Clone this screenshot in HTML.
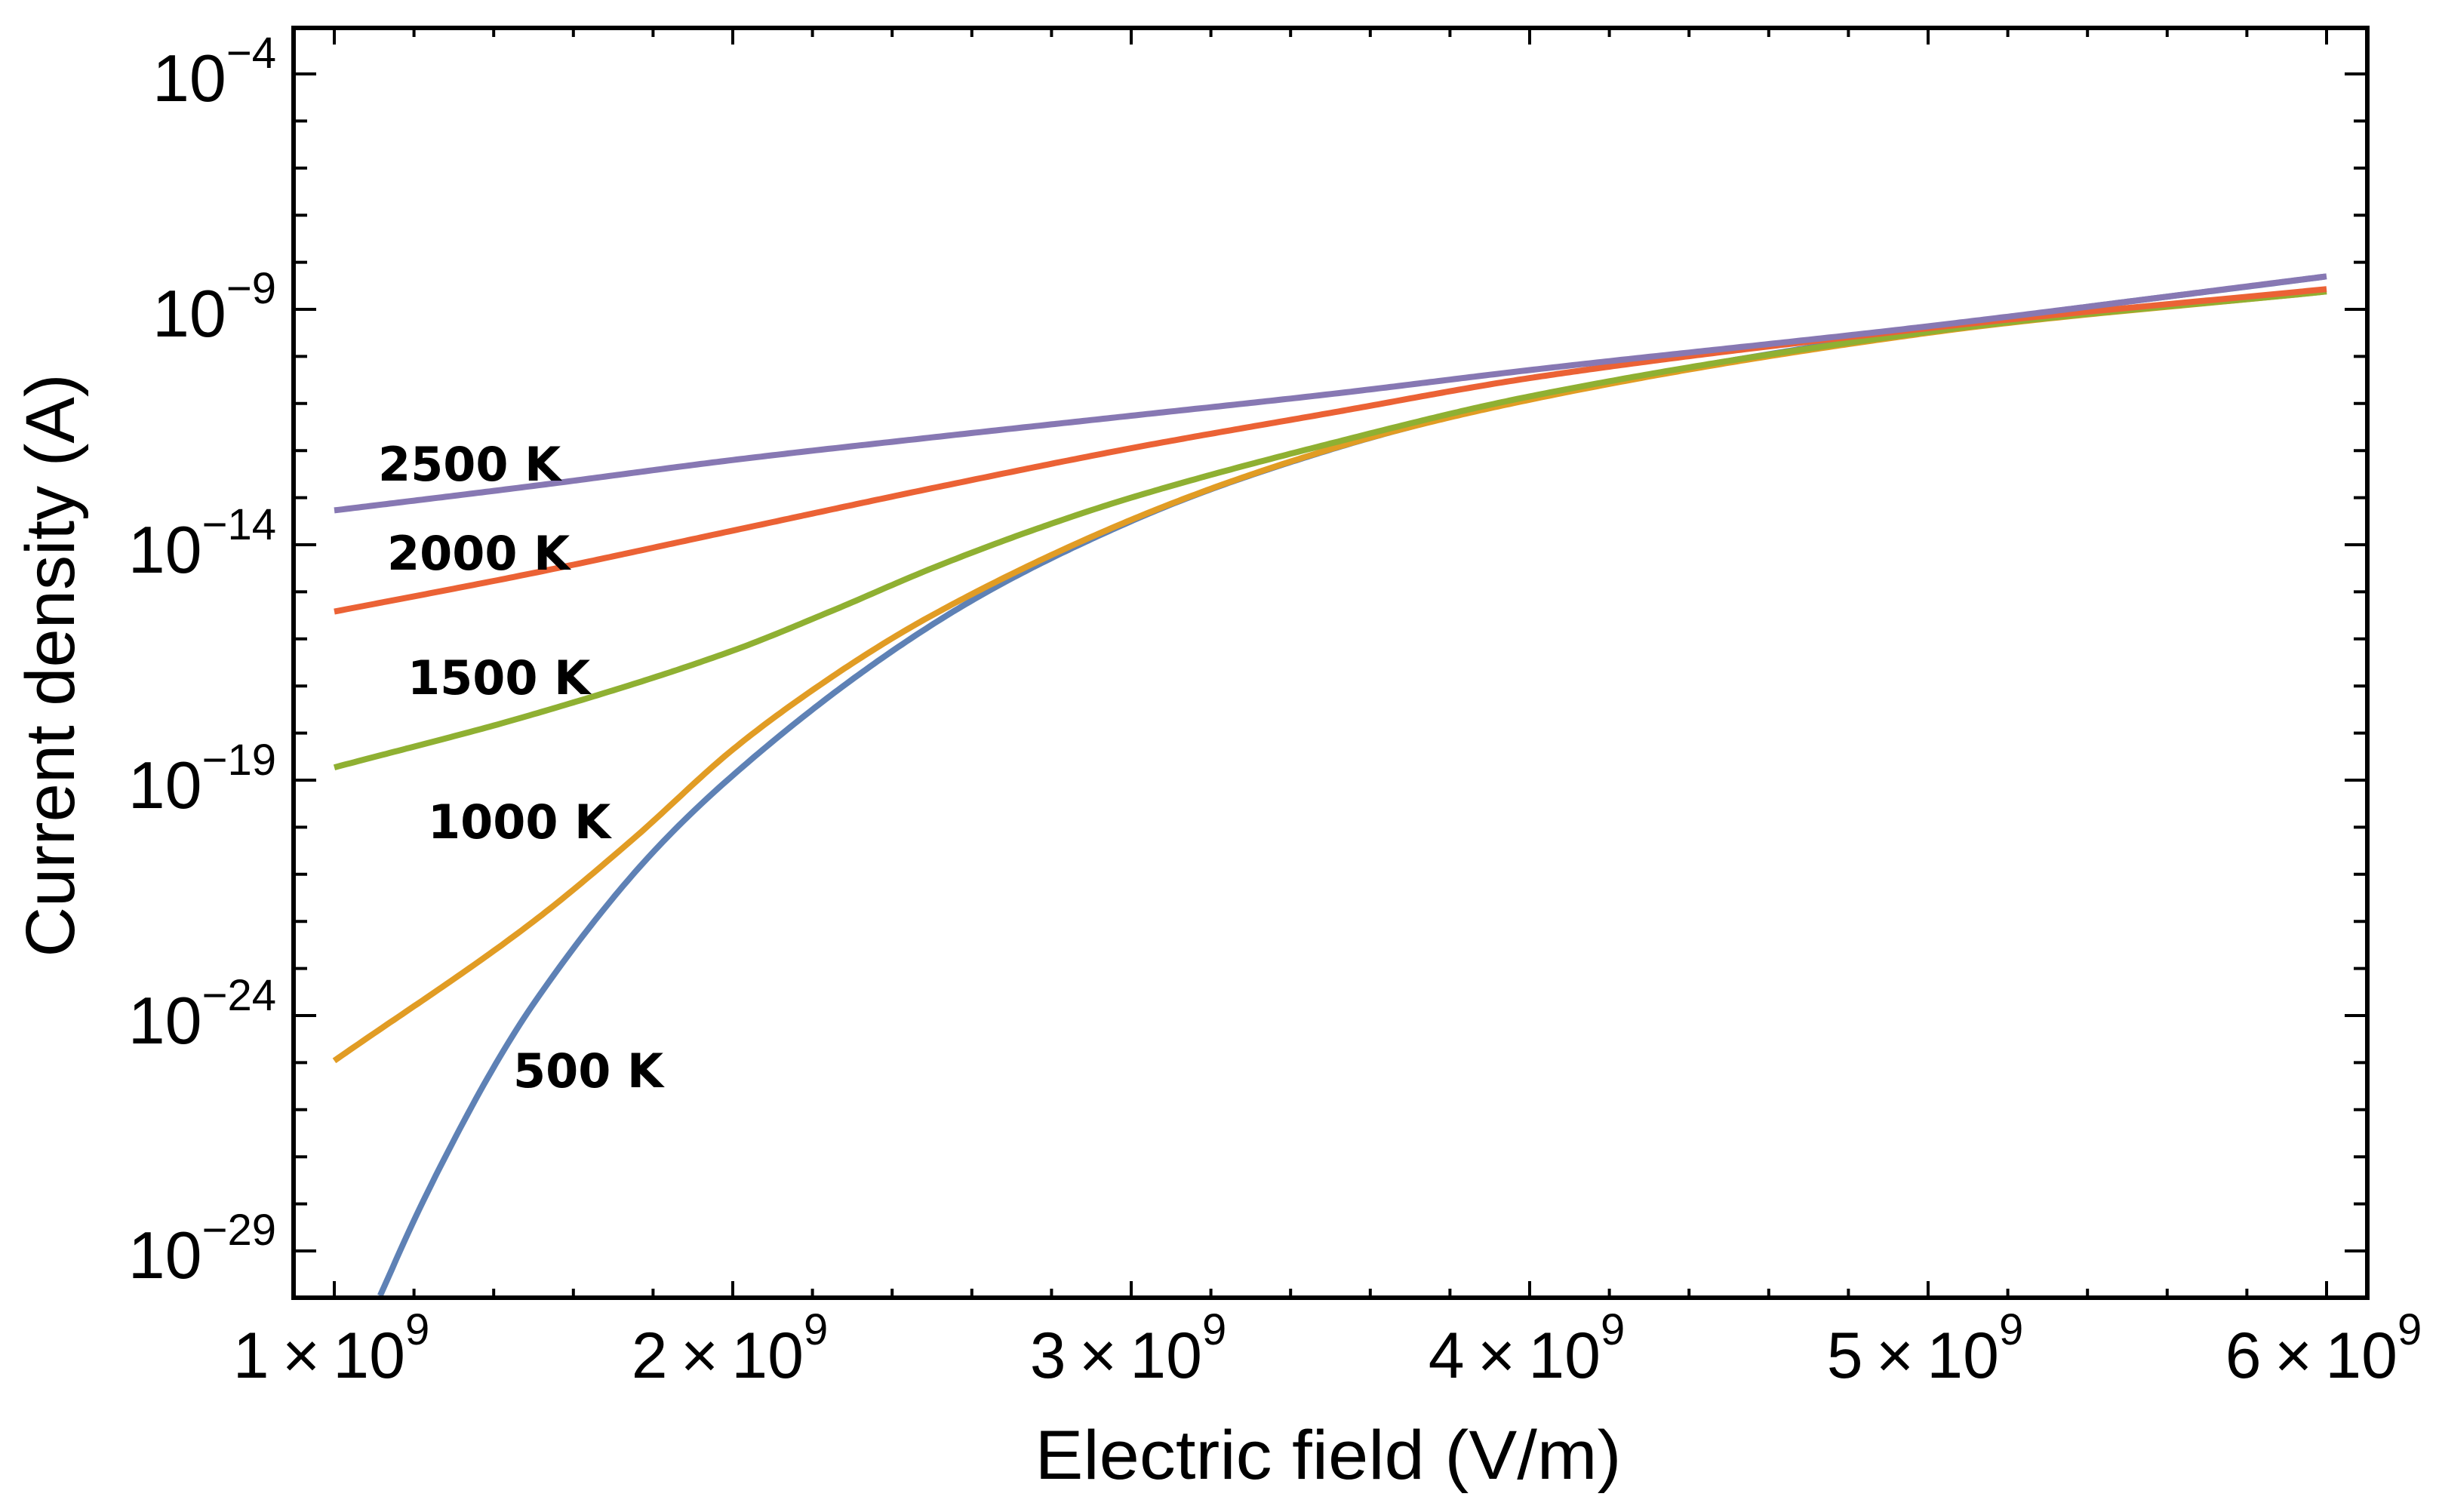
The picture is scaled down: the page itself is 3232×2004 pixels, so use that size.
<!DOCTYPE html>
<html><head><meta charset="utf-8">
<style>html,body{margin:0;padding:0;background:#fff}svg{display:block}</style>
</head><body>
<svg id="s" width="3232" height="2004" viewBox="0 0 3232 2004" xmlns="http://www.w3.org/2000/svg" font-family="'Liberation Sans', Arial, sans-serif">
<rect width="3232" height="2004" fill="#fff"/>
<g id="curves" fill="none" stroke-width="8" stroke-linejoin="round" stroke-linecap="butt"></g>
<g id="ticks" stroke="#000" stroke-width="4"></g>
<rect x="389" y="37" width="2748" height="1683" fill="none" stroke="#000" stroke-width="6"/>
<g font-size="88" fill="#000" text-anchor="end">
<text x="366" y="134">10<tspan font-size="58" dy="-44">−4</tspan></text>
<text x="366" y="446">10<tspan font-size="58" dy="-44">−9</tspan></text>
<text x="366" y="759">10<tspan font-size="58" dy="-44">−14</tspan></text>
<text x="366" y="1071">10<tspan font-size="58" dy="-44">−19</tspan></text>
<text x="366" y="1383">10<tspan font-size="58" dy="-44">−24</tspan></text>
<text x="366" y="1694">10<tspan font-size="58" dy="-44">−29</tspan></text>
</g>
<g id="xl" font-size="86" fill="#000" text-anchor="middle"></g>
<text x="1760" y="1960" font-size="92" text-anchor="middle" textLength="777" lengthAdjust="spacingAndGlyphs">Electric field (V/m)</text>
<text transform="translate(98,882) rotate(-90)" font-size="92" text-anchor="middle" textLength="773" lengthAdjust="spacingAndGlyphs">Current density (A)</text>
<g font-family="'DejaVu Sans', 'Liberation Sans', sans-serif" font-weight="bold" font-size="62" fill="#000">
<text x="501" y="637">2500 K</text>
<text x="513" y="755">2000 K</text>
<text x="540" y="920">1500 K</text>
<text x="567" y="1111">1000 K</text>
<text x="680" y="1441">500 K</text>
</g>
</svg>
<script>
var NS="http://www.w3.org/2000/svg";
function X(x){return 443+(x-1)*528;}
function Y(l){return 98+(-4-l)*62.4;}
function mono(pts){
 var n=pts.length,xs=pts.map(p=>p[0]),ys=pts.map(p=>p[1]),dl=[],m=[];
 for(var i=0;i<n-1;i++)dl[i]=(ys[i+1]-ys[i])/(xs[i+1]-xs[i]);
 m[0]=dl[0];m[n-1]=dl[n-2];
 for(var i=1;i<n-1;i++){m[i]=(dl[i-1]*dl[i]<=0)?0:(dl[i-1]+dl[i])/2;}
 for(var i=0;i<n-1;i++){var a=m[i]/dl[i],b=m[i+1]/dl[i],s=a*a+b*b;if(s>9){var t=3/Math.sqrt(s);m[i]=t*a*dl[i];m[i+1]=t*b*dl[i];}}
 return function(x){var i=0;while(i<n-2&&x>xs[i+1])i++;var h=xs[i+1]-xs[i],t=(x-xs[i])/h,t2=t*t,t3=t2*t;
  return (2*t3-3*t2+1)*ys[i]+(t3-2*t2+t)*h*m[i]+(-2*t3+3*t2)*ys[i+1]+(t3-t2)*h*m[i+1];};
}
var series=[
 ["#5E81B5",1.115,mono([[1.115,-29.95],[1.2,-28.35],[1.3,-26.65],[1.4,-25.1],[1.5,-23.75],[1.75,-21.0],[2,-18.9],[2.5,-15.7],[3,-13.5],[3.5,-11.98],[4,-10.9],[5,-9.42],[6,-8.3]])],
 ["#E19C24",1,mono([[1,-24.96],[1.5,-22.0],[1.75,-20.25],[2,-18.35],[2.25,-16.8],[2.5,-15.5],[3,-13.47],[3.5,-11.97],[4,-10.92],[5,-9.5],[6,-8.62]])],
 ["#8FB032",1,mono([[1,-18.73],[1.5,-17.6],[2,-16.25],[2.25,-15.4],[2.5,-14.5],[2.75,-13.7],[3,-13.0],[3.5,-11.85],[4,-10.85],[5,-9.48],[6,-8.62]])],
 ["#EB6235",1,mono([[1,-15.42],[1.5,-14.6],[2,-13.7],[2.5,-12.8],[3,-11.95],[3.5,-11.2],[4,-10.46],[5,-9.4],[6,-8.57]])],
 ["#8778B3",1,mono([[1,-13.27],[1.5,-12.75],[2,-12.2],[2.5,-11.72],[3,-11.26],[3.5,-10.8],[4,-10.29],[5,-9.36],[6,-8.3]])]
];
var g=document.getElementById("curves");
series.forEach(function(s){
 var f=s[2],d="";
 for(var x=s[1];x<=6.0001;x+=0.01){var y=Y(f(x));if(y>1720)y=1720;d+=(d?" L":"M")+X(x).toFixed(1)+","+y.toFixed(1);}
 var e=document.createElementNS(NS,"path");e.setAttribute("d",d);e.setAttribute("stroke",s[0]);g.appendChild(e);
});
var t=document.getElementById("ticks"),h="";
for(var k=0;k<=26;k++){var x=X(1+k*0.2);if(x<392||x>3134)continue;var L=(k%5==0)?22:12;
 h+='<line x1="'+x+'" y1="1720" x2="'+x+'" y2="'+(1720-L)+'"/><line x1="'+x+'" y1="37" x2="'+x+'" y2="'+(37+L)+'"/>';}
for(var l=-3;l>=-29;l--){var y=Y(l);if(y<40||y>1717)continue;var L=((l+4)%5==0)?30:18;
 h+='<line x1="389" y1="'+y+'" x2="'+(389+L)+'" y2="'+y+'"/><line x1="3137" y1="'+y+'" x2="'+(3137-L)+'" y2="'+y+'"/>';}
t.innerHTML=h;
var xl=document.getElementById("xl"),s2="";
for(var n=1;n<=6;n++){s2+='<text x="'+(X(n)-4)+'" y="1826">'+n+'\u2009×\u200910<tspan font-size="58" dy="-44">9</tspan></text>';}
xl.innerHTML=s2;
</script>
</body></html>
